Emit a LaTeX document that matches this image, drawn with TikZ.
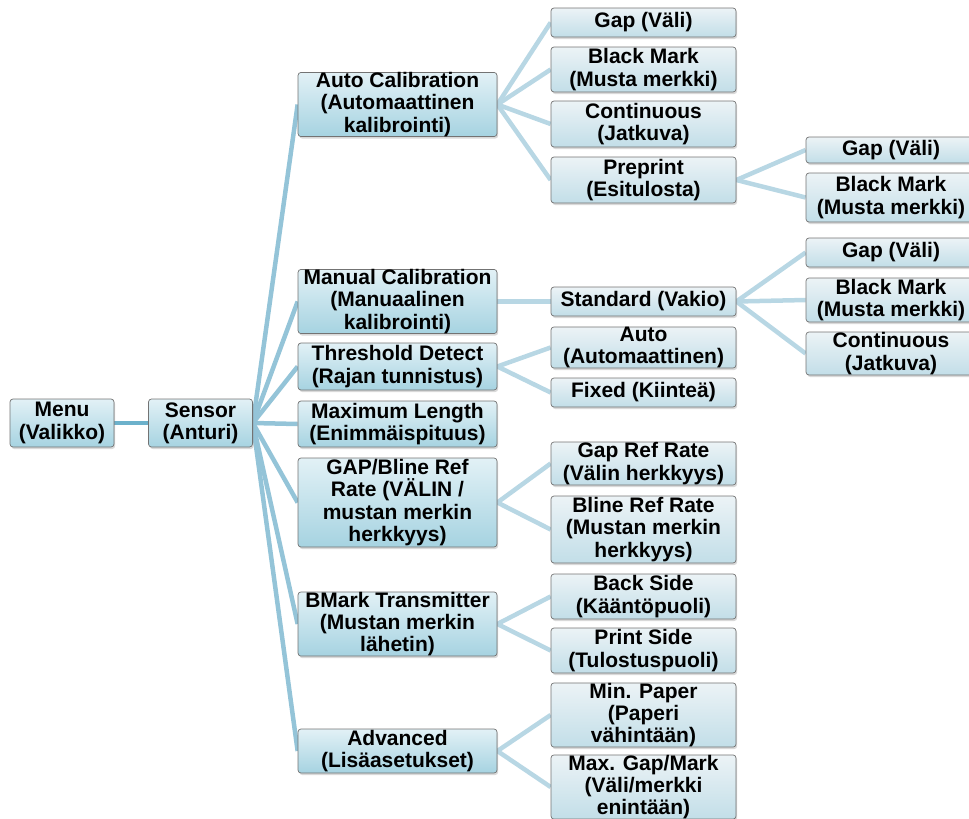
\documentclass[tikz,border=0pt]{standalone}
\usepackage{fontspec}
\setmainfont{Liberation Sans}
\usetikzlibrary{shadows, backgrounds}
\definecolor{bTop}{RGB}{226,241,246}
\definecolor{bBot}{RGB}{166,211,225}
\definecolor{cTop}{RGB}{236,243,246}
\definecolor{cBot}{RGB}{194,222,232}
\definecolor{lnMain}{RGB}{108,177,203}
\definecolor{lnMid}{RGB}{148,196,216}
\definecolor{lnOut}{RGB}{184,215,228}

\begin{document}
\begin{tikzpicture}[x=1pt, y=-1pt,
    bx/.style={draw=black!55, rounded corners=3pt, line width=0.7pt, inner sep=0pt, align=center,
        font=\fontsize{21}{22.3}\selectfont\bfseries, top color=bTop, bottom color=bBot,
        drop shadow={shadow xshift=1.2pt, shadow yshift=-2pt, opacity=0.3}},
    lA/.style={bx, minimum width=104pt},
    lB/.style={bx, minimum width=199pt},
    lC/.style={bx, minimum width=185pt, top color=cTop, bottom color=cBot},
    lD/.style={bx, minimum width=170pt, top color=cTop, bottom color=cBot},
    ht/.style={minimum height=#1},
    ed/.style={line width=4.5pt, draw=lnOut}]
    \useasboundingbox (0,0) rectangle (969,819);
    % root and sensor
    \node[lA, ht=48pt] (menu)   at (62,423)    {Menu\\(Valikko)};
    \node[lA, ht=48pt] (sensor) at (200.5,423) {Sensor\\(Anturi)};
    % sensor menu
    \node[lB, ht=63pt] (autoCal) at (397.5,104.5) {Auto Calibration\\(Automaattinen\\kalibrointi)};
    \node[lB, ht=63pt] (manCal)  at (397.5,301.5) {Manual Calibration\\(Manuaalinen\\kalibrointi)};
    \node[lB, ht=47pt] (thresh)  at (397.5,366.5) {Threshold Detect\\(Rajan tunnistus)};
    \node[lB, ht=46pt] (maxLen)  at (397.5,424)   {Maximum Length\\(Enimmäispituus)};
    \node[lB, ht=89pt] (refRate) at (397.5,502.5) {GAP/Bline Ref\\Rate (VÄLIN /\\mustan merkin\\herkkyys)};
    \node[lB, ht=64pt] (bmark)   at (397.5,624)   {BMark Transmitter\\(Mustan merkin\\lähetin)};
    \node[lB, ht=44pt] (adv)     at (397.5,751)   {Advanced\\(Lisäasetukset)};
    % options
    \node[lC, ht=29pt] (gapA)     at (643.5,22.5)  {Gap (Väli)};
    \node[lC, ht=45pt] (blackA)   at (643.5,69.5)  {Black Mark\\(Musta merkki)};
    \node[lC, ht=46pt] (contA)    at (643.5,124)   {Continuous\\(Jatkuva)};
    \node[lC, ht=46pt] (prePr)    at (643.5,180)   {Preprint\\(Esitulosta)};
    \node[lC, ht=29pt] (std)      at (643.5,301.5) {Standard (Vakio)};
    \node[lC, ht=41pt] (autoT)    at (643.5,347.5) {Auto\\(Automaattinen)};
    \node[lC, ht=29pt] (fixed)    at (643.5,392.5) {Fixed (Kiinteä)};
    \node[lC, ht=43pt] (gapRef)   at (643.5,463.5) {Gap Ref Rate\\(Välin herkkyys)};
    \node[lC, ht=67pt] (blineRef) at (643.5,529.5) {Bline Ref Rate\\(Mustan merkin\\herkkyys)};
    \node[lC, ht=45pt] (back)     at (643.5,596.5) {Back Side\\(Kääntöpuoli)};
    \node[lC, ht=45pt] (printS)   at (643.5,650.5) {Print Side\\(Tulostuspuoli)};
    \node[lC, ht=62pt] (minPap)   at (643.5,715)   {Min. Paper\\(Paperi\\vähintään)};
    \node[lC, ht=62pt] (maxGap)   at (643.5,787)   {Max. Gap/Mark\\(Väli/merkki\\enintään)};
    % sub options
    \node[lD, ht=26pt] (gapP)   at (891,150)   {Gap (Väli)};
    \node[lD, ht=49pt] (blackP) at (891,197.5) {Black Mark\\(Musta merkki)};
    \node[lD, ht=29pt] (gapS)   at (891,252.5) {Gap (Väli)};
    \node[lD, ht=44pt] (blackS) at (891,300)   {Black Mark\\(Musta merkki)};
    \node[lD, ht=43pt] (contS)  at (891,353.5) {Continuous\\(Jatkuva)};
    \begin{scope}[on background layer]
        \draw[ed, draw=lnMain] (menu.east)--(sensor.west);
        \draw[ed, draw=lnMid] (sensor.east)--(autoCal.west);
        \draw[ed, draw=lnMid] (sensor.east)--(manCal.west);
        \draw[ed, draw=lnMid] (sensor.east)--(thresh.west);
        \draw[ed, draw=lnMid] (sensor.east)--(maxLen.west);
        \draw[ed, draw=lnMid] (sensor.east)--(refRate.west);
        \draw[ed, draw=lnMid] (sensor.east)--(bmark.west);
        \draw[ed, draw=lnMid] (sensor.east)--(adv.west);
        \draw[ed] (autoCal.east)--(gapA.west);
        \draw[ed] (autoCal.east)--(blackA.west);
        \draw[ed] (autoCal.east)--(contA.west);
        \draw[ed] (autoCal.east)--(prePr.west);
        \draw[ed] (prePr.east)--(gapP.west);
        \draw[ed] (prePr.east)--(blackP.west);
        \draw[ed] (manCal.east)--(std.west);
        \draw[ed] (std.east)--(gapS.west);
        \draw[ed] (std.east)--(blackS.west);
        \draw[ed] (std.east)--(contS.west);
        \draw[ed] (thresh.east)--(autoT.west);
        \draw[ed] (thresh.east)--(fixed.west);
        \draw[ed] (refRate.east)--(gapRef.west);
        \draw[ed] (refRate.east)--(blineRef.west);
        \draw[ed] (bmark.east)--(back.west);
        \draw[ed] (bmark.east)--(printS.west);
        \draw[ed] (adv.east)--(minPap.west);
        \draw[ed] (adv.east)--(maxGap.west);
    \end{scope}
\end{tikzpicture}
\end{document}
